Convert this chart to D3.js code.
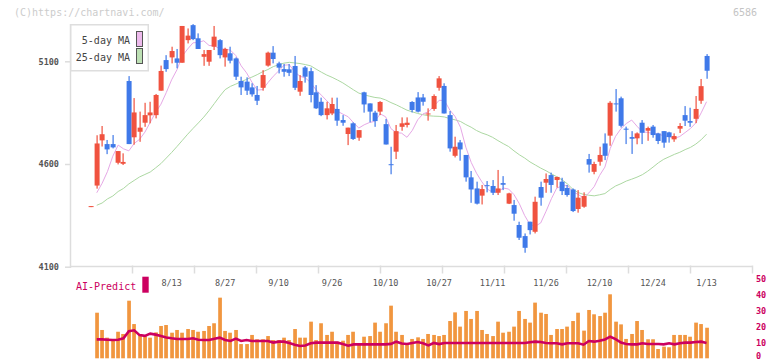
<!DOCTYPE html>
<html>
<head>
<meta charset="utf-8">
<script src="https://cdn.jsdelivr.net/npm/d3@7/dist/d3.min.js"></script>
<style>
body { margin: 0; background: #fff; }
text { font-family: "DejaVu Sans Mono", monospace; }
</style>
</head>
<body>
<script>
// daily candles, oldest first (first one is only the previous close)
var opens = [4393,4495,4715,4697,4697,4606,4601,5004,4730,4757,4801,4837,4838,4957,5106,5119,5114,5093,5203,5276,
    5212,5122,5098,5171,5203,5119,5139,5114,5004,5001,4973,4936,4971,5079,5142,5090,5062,5061,5077,4952,
    5070,5052,4949,4903,4838,4846,4868,4814,4746,4798,4728,4949,4895,4850,4855,4794,4599,4660,4781,4790,
    4902,4924,4924,4843,4868,4971,4980,4838,4640,4705,4644,4535,4481,4446,4497,4493,4460,4507,4407,4400,
    4303,4249,4319,4270,4488,4509,4546,4522,4514,4483,4476,4381,4392,4624,4562,4611,4700,4738,4895,4920,
    4772,4731,4725,4801,4762,4782,4749,4760,4754,4720,4772,4838,4809,4820,4908,5126];
var highs = [4395,4740,4785,4717,4741,4663,4652,5028,4921,4855,4898,4903,4941,5079,5130,5171,5160,5272,5260,5281,
    5236,5155,5155,5272,5208,5166,5171,5119,5025,5022,4993,4980,5057,5147,5174,5098,5087,5087,5126,5033,
    5077,5069,4984,4923,4903,4923,4923,4838,4777,4803,4765,4952,4895,4859,4906,4819,4684,4790,4827,4827,
    4906,4950,4941,4871,4939,5028,4993,4858,4733,4717,4644,4566,4514,4498,4517,4522,4571,4541,4460,4425,
    4319,4262,4319,4441,4514,4554,4558,4538,4533,4498,4481,4473,4462,4649,4611,4684,4749,4906,4965,4928,
    4782,4760,4754,4814,4782,4790,4752,4760,4757,4749,4799,4882,4874,4931,5014,5135];
var lows = [4393,4480,4685,4648,4676,4598,4595,4697,4694,4708,4781,4798,4822,4957,5049,5090,5066,5093,5187,5203,
    5160,5078,5078,5155,5114,5074,5090,5009,4936,4936,4928,4887,4957,5074,5090,5041,5025,5028,4960,4932,
    4996,4900,4868,4833,4817,4838,4786,4786,4692,4717,4713,4850,4803,4781,4838,4695,4550,4624,4762,4778,
    4851,4851,4884,4811,4859,4957,4846,4660,4632,4616,4514,4411,4403,4403,4462,4449,4449,4473,4405,4324,
    4230,4168,4257,4262,4397,4460,4460,4485,4449,4441,4366,4363,4387,4558,4550,4592,4619,4689,4855,4778,
    4697,4649,4696,4697,4713,4728,4697,4679,4704,4708,4751,4785,4781,4799,4893,5015];
var closes = [4395,4700,4745,4671,4681,4663,4610,4697,4851,4777,4838,4851,4936,5053,5062,5150,5093,5272,5225,5208,
    5160,5135,5155,5220,5130,5160,5103,5025,4973,4957,4939,4908,5033,5142,5111,5069,5049,5044,4971,5004,
    5025,4936,4871,4838,4871,4892,4811,4801,4777,4722,4765,4890,4855,4809,4902,4695,4597,4760,4798,4801,
    4863,4855,4903,4846,4931,5017,4846,4676,4684,4671,4535,4476,4407,4478,4495,4460,4481,4499,4457,4358,
    4241,4192,4278,4416,4436,4527,4498,4537,4468,4449,4371,4436,4444,4597,4600,4644,4640,4898,4892,4786,
    4769,4723,4749,4752,4775,4741,4712,4704,4731,4736,4785,4811,4801,4868,4979,5054];

var ma5 = [null,4460,4506,4563,4638,4692,4674,4664,4700,4720,4755,4803,4851,4891,4948,5010,5059,5126,5160,5190,
    5192,5200,5177,5176,5160,5160,5154,5128,5078,5044,4999,4960,4962,4996,5027,5053,5081,5083,5049,5027,
    5019,4996,4961,4935,4908,4882,4857,4843,4830,4801,4775,4791,4802,4808,4844,4830,4772,4753,4750,4730,
    4764,4815,4844,4854,4880,4910,4909,4863,4831,4779,4682,4608,4555,4513,4478,4463,4464,4483,4478,4451,
    4407,4349,4305,4297,4313,4370,4431,4483,4493,4496,4465,4452,4434,4459,4490,4544,4585,4676,4735,4772,
    4797,4814,4784,4756,4754,4748,4746,4737,4733,4725,4734,4753,4773,4800,4849,4903];
var ma25 = [null,4399,4410,4430,4444,4466,4481,4503,4520,4537,4549,4561,4581,4602,4629,4656,4685,4715,4745,4773,
    4800,4828,4860,4895,4930,4962,4978,4989,5001,5012,5023,5035,5049,5060,5074,5083,5091,5095,5092,5089,
    5084,5078,5062,5047,5033,5022,5009,4995,4978,4961,4945,4937,4930,4924,4921,4912,4899,4888,4875,4862,
    4854,4846,4840,4835,4833,4832,4829,4821,4815,4807,4792,4779,4763,4751,4742,4730,4714,4699,4685,4664,
    4645,4629,4610,4595,4580,4567,4552,4538,4523,4503,4477,4461,4452,4448,4445,4450,4456,4476,4493,4504,
    4517,4526,4536,4548,4565,4585,4606,4623,4635,4647,4657,4670,4681,4697,4718,4745];

var volume = [null,28.5,17.7,12.9,11.9,16.6,15.2,36.0,21.4,14.6,13.9,12.9,16.2,20.2,20.8,16.0,17.7,16.0,18.3,17.7,
    16.6,17.1,20.2,21.9,37.9,17.1,16.0,17.7,8.9,8.9,14.6,11.9,11.9,13.9,11.4,11.4,12.9,11.4,18.3,12.9,
    12.9,22.9,11.4,21.9,14.6,16.6,10.4,11.0,14.6,16.6,8.3,13.5,13.9,22.3,16.6,21.9,32.9,16.6,14.6,8.3,
    12.1,13.1,12.1,15.2,14.6,13.9,14.6,23.3,28.7,19.8,29.6,24.6,29.6,17.7,15.2,13.9,22.9,16.0,16.6,19.8,
    29.6,24.6,22.3,34.8,28.5,27.7,14.6,18.3,18.3,19.8,23.3,28.5,17.3,30.2,27.5,26.4,28.5,40.0,22.9,21.2,
    12.1,15.2,23.3,17.7,11.9,11.9,5.8,7.3,6.9,14.6,14.6,14.6,13.5,22.3,21.4,19.1];
var aiPredict = [null,11.8,11.8,11.6,11.4,11.6,12.5,17.0,17.5,14.5,14.0,15.4,14.8,14.0,13.0,12.5,12.1,12.1,12.1,12.5,
    11.6,11.4,11.4,12.2,12.9,11.4,10.8,12.3,10.8,11.4,10.8,10.8,10.8,10.8,9.8,10.4,10.4,9.6,8.5,7.7,
    8.0,9.4,9.8,9.8,9.8,9.8,9.8,8.9,7.9,8.7,8.7,8.7,8.7,8.7,8.7,8.7,9.0,10.4,9.2,8.9,
    9.6,10.2,9.4,8.1,9.6,8.9,9.6,9.6,9.6,9.6,9.6,9.6,9.6,9.6,9.6,9.6,9.6,9.6,9.6,9.6,
    9.6,9.6,10.0,10.4,10.2,9.6,9.4,9.4,8.7,9.4,9.4,9.4,8.5,10.8,10.4,11.0,11.8,13.5,12.0,9.8,
    8.9,8.7,8.7,9.4,8.9,8.9,8.9,8.7,9.4,8.7,9.4,9.8,9.8,10.2,10.4,9.6];

var dateLabels = ["8/13","8/27","9/10","9/26","10/10","10/27","11/11","11/26","12/10","12/24","1/13"];
var dateIndex = [15,25,35,45,55,65,75,85,95,105,115];
var priceTicks = [4100,4600,5100];
var volumeTicks = [0,10,20,30,40,50];

var width = 772, height = 361;
var plot = { left: 70, right: 752, top: 24, bottom: 266.5 };

var svg = d3.select("body").append("svg")
    .attr("width", width)
    .attr("height", height);

var x = d3.scaleLinear()
    .domain([-4, 123.5])
    .range([plot.left, plot.right]);

var y = d3.scaleLinear()
    .domain([4100, 5100])
    .range([266.7, 61.3]);

var vy = d3.scaleLinear()
    .domain([0, 50])
    .range([358.3, 278.3]);

var red = "#f0523f", blue = "#3f79e9";

// watermark and code
svg.append("text")
    .attr("x", 14).attr("y", 16)
    .attr("font-size", 10).attr("fill", "#cccccc")
    .text("(C)https://chartnavi.com/");
svg.append("text")
    .attr("x", 757).attr("y", 16)
    .attr("text-anchor", "end")
    .attr("font-size", 10).attr("fill", "#c4c4c4")
    .text("6586");

// axes
svg.append("line")
    .attr("x1", plot.left + 0.5).attr("x2", plot.left + 0.5)
    .attr("y1", plot.top).attr("y2", 268)
    .attr("stroke", "#dddddd").attr("stroke-width", 1.5);
svg.append("line")
    .attr("x1", plot.left).attr("x2", plot.right)
    .attr("y1", plot.bottom).attr("y2", plot.bottom)
    .attr("stroke", "#dddddd").attr("stroke-width", 1.5);

var tickPos = d3.scaleLinear().domain([0, 11]).range([plot.left, plot.right]);
svg.selectAll(".xtick")
    .data(d3.range(1, 12))
    .enter()
    .append("line")
    .attr("class", "xtick")
    .attr("x1", function (d) { return Math.round(tickPos(d)) + 0.5; })
    .attr("x2", function (d) { return Math.round(tickPos(d)) + 0.5; })
    .attr("y1", plot.bottom - 1)
    .attr("y2", plot.bottom + 7)
    .attr("stroke", "#dddddd").attr("stroke-width", 1.5);

var yAxis = svg.append("g")
    .attr("transform", "translate(" + plot.left + ",0)")
    .call(d3.axisLeft(y).tickValues(priceTicks).tickSize(5).tickPadding(6).tickFormat(d3.format("d")));
yAxis.select(".domain").remove();
yAxis.selectAll("line").attr("stroke", "#dddddd").attr("stroke-width", 1.5);
yAxis.selectAll("text")
    .attr("font-family", "DejaVu Sans Mono, monospace")
    .attr("font-size", 8.5)
    .attr("font-weight", "bold")
    .attr("fill", "#555");

svg.selectAll(".dlabel")
    .data(dateIndex)
    .enter()
    .append("text")
    .attr("class", "dlabel")
    .attr("x", function (d) { return x(d); })
    .attr("y", 286)
    .attr("text-anchor", "middle")
    .attr("font-size", 8.5)
    .attr("fill", "#555")
    .text(function (d, i) { return dateLabels[i]; });

// moving averages
var maLine = function (arr) {
    return d3.line()
        .defined(function (d) { return d != null; })
        .x(function (d, i) { return x(i); })
        .y(function (d) { return y(d); })(arr);
};
svg.append("path")
    .attr("d", maLine(ma25))
    .attr("fill", "none").attr("stroke", "#acd8a2").attr("stroke-width", 1);
svg.append("path")
    .attr("d", maLine(ma5))
    .attr("fill", "none").attr("stroke", "#e6a8e6").attr("stroke-width", 1);

// candles
var idx = d3.range(opens.length);
svg.selectAll(".wick")
    .data(idx)
    .enter()
    .append("rect")
    .attr("class", "wick")
    .attr("x", function (i) { return Math.round(x(i)) - 0.5; })
    .attr("width", 1.2)
    .attr("y", function (i) { return y(highs[i]); })
    .attr("height", function (i) { return Math.max(1, y(lows[i]) - y(highs[i])); })
    .attr("fill", function (i) { return closes[i] >= opens[i] ? red : blue; });

svg.selectAll(".body")
    .data(idx)
    .enter()
    .append("rect")
    .attr("class", "body")
    .attr("x", function (i) { return Math.round(x(i)) - 2.4; })
    .attr("width", 5)
    .attr("y", function (i) { return y(Math.max(opens[i], closes[i])); })
    .attr("height", function (i) { return Math.max(1, Math.abs(y(opens[i]) - y(closes[i]))); })
    .attr("fill", function (i) { return closes[i] >= opens[i] ? red : blue; });

// legend
var legend = svg.append("g");
legend.append("rect")
    .attr("x", 70.75).attr("y", 24.75).attr("width", 77.5).attr("height", 46)
    .attr("fill", "#fff").attr("stroke", "#dedede").attr("stroke-width", 1.5);
legend.append("text").attr("x", 130).attr("y", 43.5).attr("text-anchor", "end")
    .attr("font-size", 10).attr("fill", "#444").text("5-day MA");
legend.append("text").attr("x", 130).attr("y", 61).attr("text-anchor", "end")
    .attr("font-size", 10).attr("fill", "#444").text("25-day MA");
legend.append("rect").attr("x", 136.5).attr("y", 31.5).attr("width", 6).attr("height", 15)
    .attr("fill", "#edbaec").attr("stroke", "#555").attr("stroke-width", 1);
legend.append("rect").attr("x", 136.5).attr("y", 48.5).attr("width", 6).attr("height", 15)
    .attr("fill", "#bde0b4").attr("stroke", "#555").attr("stroke-width", 1);

// volume + AI predict
svg.selectAll(".vol")
    .data(idx.filter(function (i) { return volume[i] != null; }))
    .enter()
    .append("rect")
    .attr("class", "vol")
    .attr("x", function (i) { return Math.round(x(i)) - 1.8; })
    .attr("width", 3.7)
    .attr("y", function (i) { return vy(volume[i]); })
    .attr("height", function (i) { return vy(0) - vy(volume[i]); })
    .attr("fill", "#f1963f");

svg.append("path")
    .attr("d", d3.line()
        .defined(function (d) { return d != null; })
        .x(function (d, i) { return x(i); })
        .y(function (d) { return vy(d); })(aiPredict))
    .attr("fill", "none").attr("stroke", "#cc0060").attr("stroke-width", 2.6);

svg.append("text")
    .attr("x", 76).attr("y", 289.5)
    .attr("font-size", 10).attr("fill", "#cc0060")
    .text("AI-Predict");
svg.append("rect")
    .attr("x", 142.3).attr("y", 276.7).attr("width", 6.4).attr("height", 16)
    .attr("fill", "#cc0060");

var vAxis = svg.append("g")
    .attr("transform", "translate(755,0)")
    .call(d3.axisRight(vy).tickValues(volumeTicks).tickSize(0).tickPadding(1));
vAxis.select(".domain").remove();
vAxis.selectAll("text")
    .attr("font-family", "DejaVu Sans Mono, monospace")
    .attr("font-size", 8.5)
    .attr("font-weight", "bold")
    .attr("fill", "#cc0060")
    .attr("dy", function (d) { return d === 0 ? "0.05em" : "0.32em"; });
</script>
</body>
</html>
